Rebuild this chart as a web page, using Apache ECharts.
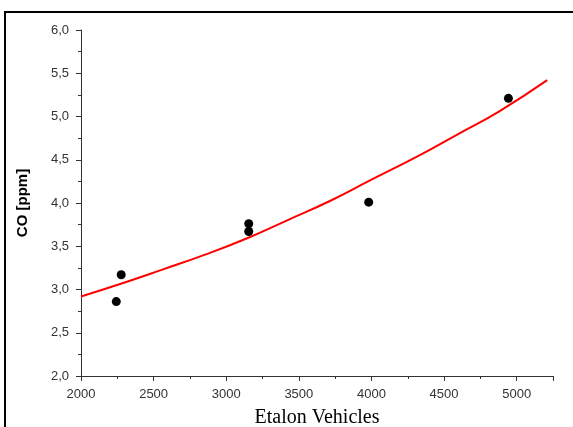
<!DOCTYPE html>
<html>
<head>
<meta charset="utf-8">
<script src="https://cdn.jsdelivr.net/npm/echarts@6/dist/echarts.min.js"></script>
<style>
  html, body { margin: 0; padding: 0; background: #fff; }
  #chart { width: 573px; height: 427px; }
</style>
</head>
<body>
<div id="chart"></div>
<script>
// measured points
var pointX = [2243, 2277, 3155, 3155, 3981, 4943];
var pointY = [2.86, 3.17, 3.76, 3.67, 4.01, 5.21];

// fitted curve
var fitX = [2000, 2280, 2560, 2850, 3140, 3420, 3710, 4000, 4330, 4600, 4880, 5210];
var fitY = [2.92, 3.07, 3.23, 3.40, 3.59, 3.80, 4.02, 4.27, 4.55, 4.80, 5.06, 5.42];

var xTicks = [2000, 2500, 3000, 3500, 4000, 4500, 5000];
var yTicks = [2.0, 2.5, 3.0, 3.5, 4.0, 4.5, 5.0, 5.5, 6.0];

function pairs(xs, ys) {
    var out = [];
    for (var i = 0; i < xs.length; i++) out.push([xs[i], ys[i]]);
    return out;
}

var labelStyle = {
    color: '#333',
    fontFamily: 'Liberation Sans',
    fontSize: 13
};

echarts.init(document.getElementById('chart')).setOption({
    backgroundColor: '#fff',
    animation: false,
    graphic: [{
        type: 'rect',
        shape: { x: 5, y: 12, width: 700, height: 600 },
        style: { fill: null, stroke: '#000', lineWidth: 2 },
        silent: true
    }],
    grid: { left: 81, top: 30, right: 20, bottom: 51, outerBoundsMode: 'none' },
    xAxis: {
        type: 'value',
        min: xTicks[0],
        max: 5250,
        interval: 500,
        name: 'Etalon Vehicles',
        nameLocation: 'middle',
        nameGap: 32,
        nameTextStyle: { fontFamily: 'Liberation Serif', fontSize: 20, color: '#000' },
        axisLine: { lineStyle: { color: '#333', width: 1 } },
        axisTick: { inside: false, length: 5, lineStyle: { color: '#333' } },
        minorTick: { show: true, splitNumber: 2, length: 3, lineStyle: { color: '#333' } },
        splitLine: { show: false },
        axisLabel: Object.assign({
            margin: 12,
            showMaxLabel: false,
            formatter: function (v) { return xTicks.indexOf(v) >= 0 ? String(v) : ''; }
        }, labelStyle)
    },
    yAxis: {
        type: 'value',
        min: yTicks[0],
        max: yTicks[yTicks.length - 1],
        interval: 0.5,
        name: 'CO [ppm]',
        nameLocation: 'middle',
        nameGap: 51,
        nameTextStyle: { fontFamily: 'Liberation Sans', fontSize: 15, fontWeight: 'bold', color: '#000' },
        axisLine: { show: true, lineStyle: { color: '#333', width: 1 } },
        axisTick: { show: true, inside: false, length: 5, lineStyle: { color: '#333' } },
        minorTick: { show: true, splitNumber: 2, length: 3, lineStyle: { color: '#333' } },
        splitLine: { show: false },
        axisLabel: Object.assign({
            margin: 12,
            formatter: function (v) { return v.toFixed(1).replace('.', ','); }
        }, labelStyle)
    },
    series: [
        {
            name: 'fit',
            type: 'line',
            smooth: 0.5,
            symbol: 'none',
            lineStyle: { color: '#ff0000', width: 2 },
            data: pairs(fitX, fitY),
            z: 2
        },
        {
            name: 'CO',
            type: 'scatter',
            symbol: 'circle',
            symbolSize: 9,
            itemStyle: { color: '#000', opacity: 1 },
            data: pairs(pointX, pointY),
            z: 3
        }
    ]
});
</script>
</body>
</html>
